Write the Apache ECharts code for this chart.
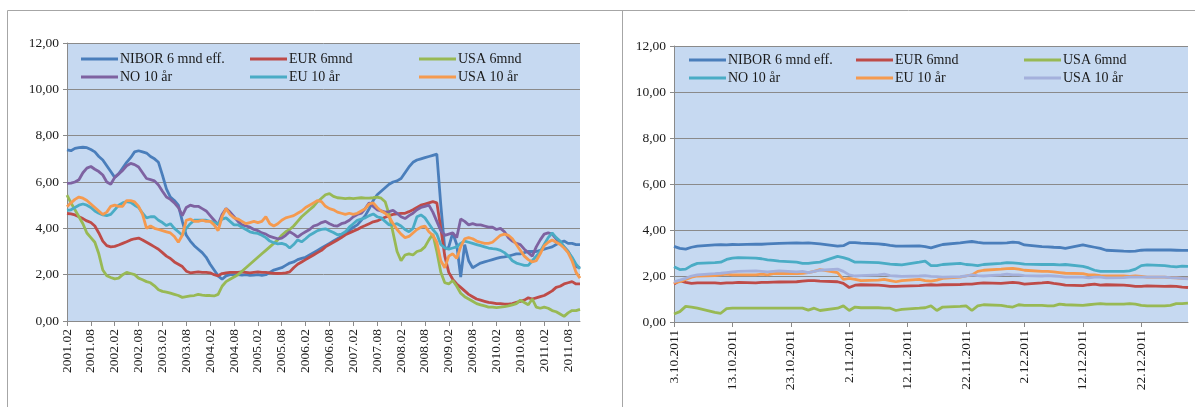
<!DOCTYPE html>
<html><head><meta charset="utf-8">
<script src="https://cdn.jsdelivr.net/npm/echarts@6/dist/echarts.min.js"></script>
<style>
html,body{margin:0;padding:0;background:#fff;}
#wrap{position:relative;width:1195px;height:407px;overflow:hidden;}
#left{position:absolute;left:0;top:0;width:622px;height:407px;}
#right{position:absolute;left:622px;top:0;width:573px;height:407px;}
</style>
</head><body>
<div id="wrap"><div id="left"></div><div id="right"></div></div>
<script>
// ---------- Names ----------
const namesRow1 = ['NIBOR 6 mnd eff.', 'EUR 6mnd', 'USA 6mnd'];
const namesRow2 = ['NO 10 år', 'EU 10 år', 'USA 10 år'];
const yTicks = [0, 2, 4, 6, 8, 10, 12];

// ---------- Left chart: monthly, 2001.02 – 2011.11 ----------
const firstYear = 2001, firstMonth = 2, monthCount = 130;
const monthCategories = [];
for (let i = 0; i < monthCount; i++) {
  const t = firstMonth - 1 + i;
  const y = firstYear + Math.floor(t / 12), m = (t % 12) + 1;
  monthCategories.push(y + '.' + String(m).padStart(2, '0'));
}

const niborM = [7.39,7.35,7.45,7.48,7.5,7.48,7.4,7.3,7.1,6.95,
 6.7,6.45,6.2,6.35,6.6,6.85,7.05,7.3,7.35,7.3,
 7.25,7.1,7.0,6.85,6.3,5.7,5.35,5.2,5.0,4.3,
 3.7,3.45,3.25,3.1,2.95,2.75,2.45,2.2,1.95,1.8,
 1.95,2.0,2.0,2.0,1.98,2.0,1.97,1.98,2.0,1.97,
 2.0,2.1,2.2,2.25,2.3,2.4,2.5,2.55,2.65,2.7,
 2.75,2.85,2.95,3.05,3.15,3.25,3.35,3.45,3.55,3.65,
 3.75,3.9,4.05,4.15,4.35,4.55,4.85,5.2,5.45,5.6,
 5.75,5.9,6.0,6.05,6.15,6.4,6.65,6.85,6.95,7.0,
 7.05,7.1,7.15,7.2,5.0,3.1,3.2,3.8,3.3,1.9,
 3.3,2.6,2.3,2.4,2.5,2.55,2.6,2.65,2.7,2.75,
 2.77,2.8,2.85,2.9,2.9,2.95,3.0,3.0,3.0,3.05,
 3.1,3.15,3.2,3.3,3.4,3.45,3.35,3.35,3.3,3.3];

const eurM = [4.64,4.62,4.58,4.5,4.42,4.32,4.25,4.1,3.8,3.45,
 3.25,3.2,3.22,3.28,3.35,3.42,3.5,3.55,3.58,3.5,
 3.4,3.3,3.2,3.1,2.95,2.8,2.7,2.55,2.45,2.35,
 2.15,2.08,2.1,2.12,2.1,2.1,2.08,2.0,1.95,2.05,
 2.08,2.1,2.1,2.1,2.12,2.1,2.08,2.1,2.12,2.1,
 2.1,2.08,2.06,2.05,2.06,2.08,2.12,2.3,2.45,2.55,
 2.65,2.75,2.85,2.95,3.05,3.2,3.3,3.4,3.5,3.6,
 3.72,3.8,3.88,3.95,4.05,4.12,4.2,4.28,4.32,4.4,
 4.48,4.55,4.6,4.62,4.65,4.65,4.72,4.8,4.9,5.0,
 5.05,5.1,5.15,5.1,4.0,2.8,2.1,1.8,1.6,1.45,
 1.3,1.15,1.05,0.95,0.9,0.85,0.8,0.78,0.75,0.75,
 0.73,0.73,0.75,0.8,0.85,0.9,1.0,0.95,1.0,1.05,
 1.1,1.2,1.3,1.45,1.5,1.6,1.65,1.7,1.6,1.6];

const usa6M = [5.43,5.1,4.8,4.5,4.2,3.8,3.6,3.4,2.9,2.2,
 1.95,1.88,1.82,1.85,2.0,2.1,2.05,2.0,1.85,1.78,
 1.7,1.65,1.52,1.35,1.28,1.25,1.2,1.15,1.1,1.02,
 1.05,1.08,1.1,1.15,1.12,1.1,1.1,1.08,1.15,1.5,
 1.7,1.8,1.9,2.0,2.15,2.3,2.45,2.6,2.75,2.9,
 3.05,3.2,3.35,3.5,3.7,3.85,3.95,4.1,4.3,4.5,
 4.65,4.8,4.95,5.15,5.3,5.45,5.5,5.38,5.32,5.3,
 5.28,5.3,5.28,5.3,5.32,5.3,5.3,5.32,5.35,5.3,
 5.15,4.6,3.8,3.0,2.6,2.85,2.9,2.85,3.0,3.05,
 3.2,3.5,3.75,3.0,2.1,1.65,1.6,1.75,1.5,1.2,
 1.05,0.95,0.85,0.75,0.7,0.65,0.6,0.6,0.58,0.6,
 0.62,0.65,0.7,0.75,0.9,0.8,0.7,0.95,0.6,0.55,
 0.6,0.55,0.45,0.4,0.3,0.2,0.35,0.45,0.45,0.5];

const no10M = [5.94,5.95,6.0,6.1,6.4,6.6,6.67,6.55,6.45,6.3,
 6.0,5.9,6.2,6.35,6.5,6.7,6.8,6.75,6.65,6.4,
 6.15,6.1,6.05,5.87,5.6,5.35,5.25,5.1,4.9,4.55,
 4.9,5.0,4.95,4.95,4.85,4.75,4.55,4.35,4.15,4.6,
 4.85,4.7,4.5,4.3,4.15,4.1,4.05,3.95,3.9,3.8,
 3.75,3.65,3.6,3.55,3.58,3.7,3.85,3.75,3.62,3.75,
 3.85,3.95,4.1,4.15,4.25,4.3,4.2,4.12,4.1,4.2,
 4.25,4.35,4.5,4.6,4.65,4.85,5.1,4.95,4.8,4.75,
 4.7,4.72,4.78,4.65,4.5,4.42,4.55,4.65,4.8,4.9,
 4.95,5.0,4.7,4.3,3.9,3.7,3.75,3.8,3.6,4.4,
 4.3,4.15,4.2,4.15,4.15,4.1,4.05,4.05,3.95,4.0,
 3.85,3.6,3.45,3.35,3.3,3.1,2.95,2.8,3.2,3.5,
 3.75,3.8,3.75,3.55,3.35,3.2,3.0,2.7,2.35,2.3];

const eu10M = [4.78,4.8,4.9,5.0,5.05,5.0,4.9,4.75,4.65,4.58,
 4.55,4.6,4.8,5.0,5.1,5.15,5.12,5.0,4.9,4.65,
 4.45,4.5,4.5,4.35,4.25,4.12,4.2,4.0,3.85,3.7,
 4.0,4.2,4.35,4.35,4.35,4.35,4.3,4.25,4.2,4.4,
 4.45,4.3,4.15,4.15,4.05,3.95,3.85,3.8,3.78,3.7,
 3.6,3.45,3.38,3.33,3.35,3.3,3.15,3.3,3.5,3.42,
 3.55,3.7,3.8,3.9,3.95,3.98,3.9,3.82,3.72,3.75,
 3.85,4.05,4.2,4.35,4.4,4.45,4.55,4.62,4.5,4.45,
 4.3,4.15,4.15,4.2,4.1,3.95,3.85,4.0,4.5,4.58,
 4.45,4.2,3.95,3.75,3.3,3.15,3.1,3.15,3.2,3.35,
 3.45,3.4,3.35,3.3,3.25,3.2,3.15,3.12,3.1,3.05,
 2.95,2.8,2.6,2.5,2.45,2.4,2.4,2.6,2.8,3.0,
 3.3,3.6,3.8,3.6,3.45,3.2,3.0,2.75,2.45,2.25];

const usa10M = [4.93,5.1,5.25,5.35,5.3,5.2,5.05,4.9,4.75,4.6,
 4.7,4.95,5.0,4.95,4.95,5.2,5.2,5.14,4.95,4.6,
 4.0,4.1,4.0,3.95,3.9,3.85,3.8,3.65,3.4,3.7,
 4.35,4.4,4.3,4.3,4.35,4.3,4.3,4.15,3.9,4.5,
 4.85,4.6,4.45,4.4,4.3,4.2,4.25,4.3,4.25,4.3,
 4.5,4.2,4.1,4.2,4.35,4.45,4.5,4.55,4.65,4.75,
 4.9,5.0,5.1,5.2,5.15,4.95,4.85,4.8,4.7,4.65,
 4.6,4.65,4.6,4.65,4.75,4.85,5.05,5.1,4.9,4.75,
 4.65,4.5,4.2,3.95,3.75,3.6,3.65,3.8,3.95,4.05,
 4.1,3.85,3.7,3.4,2.6,2.3,2.8,2.9,2.7,3.2,
 3.55,3.6,3.55,3.45,3.4,3.35,3.35,3.4,3.55,3.7,
 3.75,3.7,3.55,3.3,3.05,2.8,2.65,2.55,2.6,2.9,
 3.25,3.4,3.5,3.4,3.3,3.15,2.95,2.6,2.1,1.85];

// ---------- Right chart: business days, 3.10.2011 – 30.12.2011 ----------
const dayCount = 89;
const dayCategories = [], businessDays = [];
for (let i = 0; i < dayCount; i++) {
  const d = new Date(Date.UTC(2011, 9, 3 + i));
  const lab = d.getUTCDate() + '.' + (d.getUTCMonth() + 1) + '.' + d.getUTCFullYear();
  dayCategories.push(lab);
  const wd = d.getUTCDay();
  if (wd !== 0 && wd !== 6) businessDays.push(lab);
}

const niborD = [3.29,3.2,3.17,3.25,3.3, 3.35,3.36,3.35,3.37,3.36, 3.39,3.38,3.4,3.41,3.42,
 3.44,3.43,3.44,3.42,3.4, 3.3,3.32,3.45,3.45,3.43, 3.4,3.37,3.33,3.3,3.3,
 3.31,3.28,3.22,3.3,3.37, 3.44,3.47,3.5,3.46,3.43, 3.43,3.44,3.47,3.45,3.35,
 3.28,3.27,3.25,3.24,3.2, 3.35,3.3,3.25,3.2,3.12, 3.08,3.07,3.08,3.12,3.14,
 3.13,3.13,3.12,3.11,3.11];
const eurD = [1.65,1.8,1.72,1.68,1.7, 1.7,1.68,1.7,1.7,1.72, 1.7,1.72,1.72,1.73,1.74,
 1.75,1.78,1.8,1.8,1.78, 1.75,1.68,1.5,1.6,1.62, 1.6,1.58,1.55,1.55,1.56,
 1.58,1.6,1.62,1.6,1.62, 1.63,1.65,1.65,1.68,1.7, 1.68,1.7,1.72,1.7,1.65,
 1.7,1.72,1.68,1.65,1.6, 1.58,1.62,1.65,1.6,1.62, 1.6,1.58,1.55,1.55,1.57,
 1.55,1.56,1.55,1.52,1.5];
const usa6D = [0.35,0.45,0.68,0.65,0.6, 0.42,0.38,0.58,0.6,0.6, 0.6,0.6,0.6,0.6,0.6,
 0.6,0.6,0.52,0.6,0.5, 0.6,0.7,0.5,0.65,0.62, 0.62,0.6,0.6,0.5,0.55,
 0.6,0.62,0.7,0.5,0.65, 0.68,0.7,0.5,0.7,0.75, 0.72,0.68,0.65,0.75,0.72,
 0.72,0.7,0.7,0.78,0.75, 0.72,0.75,0.78,0.8,0.78, 0.78,0.8,0.78,0.72,0.7,
 0.7,0.72,0.8,0.8,0.82];
const no10D = [2.4,2.28,2.3,2.45,2.55, 2.58,2.6,2.72,2.78,2.8, 2.78,2.75,2.7,2.68,2.65,
 2.6,2.55,2.55,2.58,2.6, 2.85,2.8,2.72,2.6,2.6, 2.58,2.55,2.52,2.5,2.48,
 2.6,2.65,2.45,2.45,2.5, 2.55,2.5,2.48,2.45,2.5, 2.55,2.58,2.57,2.55,2.52,
 2.5,2.5,2.5,2.48,2.5, 2.42,2.35,2.25,2.2,2.2, 2.2,2.22,2.3,2.45,2.48,
 2.45,2.42,2.4,2.43,2.42];
const eu10D = [1.7,1.75,1.85,1.95,2.0, 2.02,2.05,2.08,2.05,2.05, 2.05,2.08,2.05,2.1,2.12,
 2.1,2.12,2.15,2.2,2.28, 2.15,1.85,1.9,1.85,1.8, 1.82,1.85,1.8,1.75,1.8,
 1.85,1.8,1.78,1.82,1.9, 1.95,2.0,2.05,2.2,2.25, 2.3,2.32,2.33,2.3,2.25,
 2.2,2.2,2.18,2.15,2.12, 2.1,2.05,2.05,2.02,2.0, 2.0,1.98,2.0,1.98,1.95,
 1.95,1.93,1.92,1.9,1.9];
const usa10D = [1.75,1.82,1.9,2.0,2.05, 2.1,2.12,2.15,2.18,2.2, 2.22,2.2,2.18,2.2,2.22,
 2.18,2.2,2.15,2.2,2.25, 2.3,2.2,2.05,2.0,2.02, 2.05,2.08,2.02,2.0,1.98,
 2.0,2.02,1.98,1.97,1.95, 1.97,2.0,2.05,2.02,2.0, 2.05,2.08,2.05,2.05,2.02,
 2.0,2.02,2.0,1.98,1.95, 1.95,1.92,1.95,1.95,1.92, 1.93,1.95,1.95,1.95,1.95,
 1.95,1.93,1.92,1.9,1.88];

// ---------- Styling ----------
const FONT = "'Liberation Serif', 'Times New Roman', serif";
const TXT = '#1a1a1a';
const GRID_C = '#8a8a8a';
const PLOT_BG = '#c6d9f1';
const leftColors = ['#4a7ebb', '#be4b48', '#98b954', '#7e62a1', '#4aacc5', '#f59a4f'];
const rightColors = ['#4a7ebb', '#be4b48', '#98b954', '#4aacc5', '#f59a4f', '#a4b0dc'];
const allNames = namesRow1.concat(namesRow2);

function yAxisCfg() {
  return {
    type: 'value', min: yTicks[0], max: yTicks[yTicks.length - 1], interval: yTicks[1] - yTicks[0],
    axisLine: { show: true, lineStyle: { color: GRID_C, width: 1 } },
    axisTick: { show: true, length: 4, lineStyle: { color: GRID_C } },
    splitLine: { show: true, lineStyle: { color: GRID_C, width: 1 } },
    axisLabel: { fontFamily: FONT, fontSize: 13.5, color: TXT, margin: 8,
      formatter: v => v.toFixed(2).replace('.', ',') }
  };
}
// one legend component per entry, placed in a 3x2 layout
function legends(colX, rowY) {
  return allNames.map((n, i) => ({
    orient: 'horizontal', left: colX[i % 3], top: rowY[Math.floor(i / 3)],
    icon: 'rect', itemWidth: 37, itemHeight: 3, padding: 0, selectedMode: false,
    data: [n],
    textStyle: { fontFamily: FONT, fontSize: 14, color: TXT, padding: [0, 0, 0, -3] }
  }));
}
function lineSeries(name, data, color) {
  return { name, type: 'line', data, showSymbol: false, symbol: 'none',
    lineStyle: { width: 2.8, color }, itemStyle: { color }, color, animation: false };
}

// ---------- Left chart ----------
const leftChart = echarts.init(document.getElementById('left'), null, { renderer: 'canvas' });
const leftVals = [niborM, eurM, usa6M, no10M, eu10M, usa10M];
leftChart.setOption({
  animation: false,
  backgroundColor: '#ffffff',
  grid: { left: 67, top: 43, width: 513, height: 278, show: true, backgroundColor: PLOT_BG, borderWidth: 0 },
  xAxis: {
    type: 'category', data: monthCategories, boundaryGap: false,
    axisLine: { show: true, lineStyle: { color: GRID_C } },
    axisTick: { show: true, interval: 5, length: 5, lineStyle: { color: GRID_C } },
    axisLabel: { interval: 5, rotate: 90, fontFamily: FONT, fontSize: 13.5, color: TXT, margin: 8 },
    splitLine: { show: false }
  },
  yAxis: yAxisCfg(),
  legend: legends([81, 250, 419], [52, 70]),
  series: allNames.map((n, i) => lineSeries(n, leftVals[i], leftColors[i])),
  graphic: [
    { type: 'line', shape: { x1: 7.5, y1: 10.5, x2: 7.5, y2: 407 }, style: { stroke: '#a6a6a6', lineWidth: 1 } },
    { type: 'line', shape: { x1: 7.5, y1: 10.5, x2: 622, y2: 10.5 }, style: { stroke: '#a6a6a6', lineWidth: 1 } }
  ]
});

// ---------- Right chart ----------
const rightChart = echarts.init(document.getElementById('right'), null, { renderer: 'canvas' });
const rightVals = [niborD, eurD, usa6D, no10D, eu10D, usa10D];
rightChart.setOption({
  animation: false,
  backgroundColor: '#ffffff',
  grid: { left: 52, top: 46, width: 514, height: 276, show: true, backgroundColor: PLOT_BG, borderWidth: 0 },
  xAxis: {
    type: 'category', data: dayCategories, boundaryGap: false,
    axisLine: { show: true, lineStyle: { color: GRID_C } },
    axisTick: { show: true, interval: 9, length: 5, lineStyle: { color: GRID_C } },
    axisLabel: { interval: 9, rotate: 90, fontFamily: FONT, fontSize: 13.5, color: TXT, margin: 8 },
    splitLine: { show: false }
  },
  yAxis: yAxisCfg(),
  legend: legends([67, 234, 402], [53, 71]),
  series: allNames.map((n, i) => lineSeries(n, businessDays.map((d, k) => [d, rightVals[i][k]]), rightColors[i])),
  graphic: [
    { type: 'line', shape: { x1: 0.5, y1: 10.5, x2: 0.5, y2: 407 }, style: { stroke: '#a6a6a6', lineWidth: 1 } },
    { type: 'line', shape: { x1: 0, y1: 10.5, x2: 573, y2: 10.5 }, style: { stroke: '#a6a6a6', lineWidth: 1 } }
  ]
});
</script>
</body></html>
